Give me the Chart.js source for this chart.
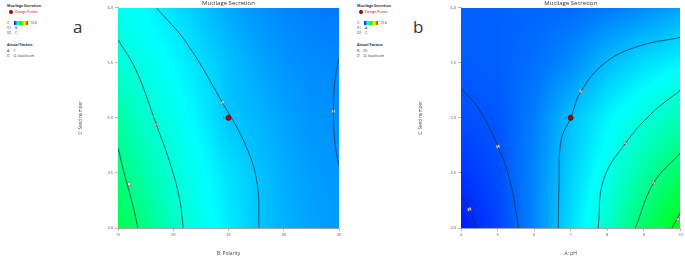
<!DOCTYPE html>
<html>
<head>
<meta charset="utf-8">
<script src="https://cdn.jsdelivr.net/npm/chart.js@4.4.1/dist/chart.umd.min.js"></script>
<style>
  body { margin:0; background:#fff; width:685px; height:257px; overflow:hidden; position:relative; font-family:"Open Sans","Noto Sans",sans-serif; }
  canvas { position:absolute; top:0; }
  .leg { position:absolute; font-size:3.6px; line-height:4px; color:#333; white-space:nowrap; }
  .leg b { font-weight:700; }
  .red { color:#c00000; }
  .dot { display:inline-block; width:4px; height:4px; border-radius:50%; background:#a00000; vertical-align:middle; margin-right:2px; }
  .bar { position:absolute; width:14px; height:4px; background:linear-gradient(to right,#0000ff,#00ffff 25%,#00ff00 50%,#ffff00 75%,#ff0000); }
  .tag { position:absolute; font-size:17px; color:#333; font-family:"Open Sans","Noto Sans",sans-serif; }
</style>
</head>
<body>
<!-- legend a -->
<div class="leg" style="left:7px;top:4px"><b>Mucilage Secretion</b></div>
<div class="leg red" style="left:9px;top:10px"><span class="dot"></span>Design Points</div>
<div class="leg" style="left:7px;top:21px;color:#3050c0">0</div>
<div class="bar" style="left:14px;top:21px"></div>
<div class="leg red" style="left:30px;top:21px">10.6</div>
<div class="leg" style="left:7px;top:26px">X1 = B</div>
<div class="leg" style="left:7px;top:31px">X2 = C</div>
<div class="leg" style="left:7px;top:43px"><b>Actual Factors</b></div>
<div class="leg" style="left:7px;top:49px">A = 7</div>
<div class="leg" style="left:7px;top:54px">D = O. basilicum</div>
<div class="tag" style="left:73px;top:15px">a</div>
<!-- legend b -->
<div class="leg" style="left:357px;top:4px"><b>Mucilage Secretion</b></div>
<div class="leg red" style="left:359px;top:10px"><span class="dot"></span>Design Points</div>
<div class="leg" style="left:357px;top:21px;color:#3050c0">0</div>
<div class="bar" style="left:364px;top:21px"></div>
<div class="leg red" style="left:380px;top:21px">10.6</div>
<div class="leg" style="left:357px;top:26px">X1 = A</div>
<div class="leg" style="left:357px;top:31px">X2 = C</div>
<div class="leg" style="left:357px;top:43px"><b>Actual Factors</b></div>
<div class="leg" style="left:357px;top:49px">B = 25</div>
<div class="leg" style="left:357px;top:54px">D = O. basilicum</div>
<div class="tag" style="left:413px;top:15px">b</div>

<canvas id="chart-a" width="285" height="257" style="left:60px"></canvas>
<canvas id="chart-b" width="285" height="257" style="left:400px"></canvas>

<script>
// ── Data: panel a (B: Polarity vs C: Seed number) ────────────
const aPolarity = [15, 17.5, 20, 22.5, 25, 27.5, 30, 32.5, 35];
const aSeed     = [6, 5.5, 5, 4.5, 4];
const aSurface  = [
  [2.8, 2.6,  2.35, 2.05, 1.75, 1.55, 1.4,  1.3,  1.25],
  [3.05,2.85, 2.6,  2.3,  2.0,  1.75, 1.55, 1.45, 1.4 ],
  [3.6, 3.15, 2.85, 2.5,  2.05, 1.9,  1.7,  1.55, 1.5 ],
  [4.0, 3.5,  3.05, 2.7,  2.35, 2.05, 1.8,  1.65, 1.55],
  [4.5, 3.9,  3.25, 2.85, 2.45, 2.1,  1.85, 1.7,  1.6 ],
];
const aContours = [
  [[15,4.73],[15.6,4.48],[16.1,4.3],[16.5,4.14],[16.8,4.0]],
  [[15,5.71],[16.6,5.44],[18.47,4.94],[19.8,4.56],[20.6,4.25],[20.9,4.0]],
  [[18.47,6],[21.2,5.68],[24.44,5.14],[26.6,4.74],[27.6,4.4],[27.76,4.0]],
  [[35,5.54],[34.64,5.35],[34.5,5.06],[34.64,4.76],[35,4.57]],
];
const aLabels   = [[16.0,4.40],[18.47,4.94],[24.45,5.14],[34.5,5.06]];
const aDesign   = [[25,5]];

// ── Data: panel b (A: pH vs C: Seed number) ──────────────────
const bPH       = [4, 5, 6, 7, 8, 9, 10];
const bSeed     = [6, 5.5, 5, 4.5, 4];
const bSurface  = [
  [1.0,  1.0,  1.05, 1.1,  1.25, 1.45, 1.7 ],
  [0.95, 1.0,  1.15, 1.45, 1.95, 2.3,  2.55],
  [0.8,  0.9,  1.3,  2.0,  2.55, 3.0,  3.45],
  [0.55, 0.8,  1.4,  2.15, 2.85, 3.6,  4.3 ],
  [0.25, 0.7,  1.4,  2.3,  3.2,  4.25, 5.1 ],
];
const bContours = [
  [[4,4.3],[4.23,4.17],[4.44,4.0]],
  [[4,5.27],[4.51,5.07],[5.01,4.74],[5.33,4.44],[5.58,4.0]],
  [[6.66,4.0],[6.68,4.38],[6.74,4.8],[7.0,5.0],[7.28,5.24],[7.94,5.5],[8.85,5.65],[10,5.73]],
  [[7.75,4.0],[7.9,4.44],[8.5,4.77],[9.21,5.04],[10,5.25]],
  [[8.77,4.0],[9.27,4.41],[10,4.68]],
  [[9.77,4.0],[10,4.14]],
];
const bLabels   = [[4.23,4.17],[5.01,4.74],[7.28,5.24],[8.5,4.77],[9.27,4.41],[9.92,4.08]];
const bDesign   = [[7,5]];

// Design-Expert style colour ramp, 0 .. 10.6
const RAMP = [[0,[0,0,255]],[2.65,[0,255,255]],[5.3,[0,255,0]],[7.95,[255,255,0]],[10.6,[255,0,0]]];

function rampColor(v) {
  if (v <= RAMP[0][0]) return RAMP[0][1];
  for (let i=1; i<RAMP.length; i++) {
    if (v <= RAMP[i][0]) {
      const [v0,c0]=RAMP[i-1], [v1,c1]=RAMP[i], t=(v-v0)/(v1-v0);
      return c0.map((c,k)=>c+(c1[k]-c)*t);
    }
  }
  return RAMP[RAMP.length-1][1];
}

// position of v inside sorted/unsorted axis array -> [index, frac]
function locate(arr, v) {
  const asc = arr[1] > arr[0];
  for (let i=0; i<arr.length-1; i++) {
    const a=arr[i], b=arr[i+1];
    if ((asc && v>=a && v<=b) || (!asc && v<=a && v>=b)) return [i, (v-a)/(b-a)];
  }
  return (asc ? v<arr[0] : v>arr[0]) ? [0,0] : [arr.length-2,1];
}

// ── Surface plugin: fills chart area from the grid via the scales ──
const surfacePlugin = {
  id:'surface',
  beforeDatasetsDraw(chart, args, opts) {
    const {ctx, chartArea:ca, scales:{x, y}} = chart;
    const w = Math.round(ca.right-ca.left), h = Math.round(ca.bottom-ca.top);
    const off = document.createElement('canvas');
    off.width = w; off.height = h;
    const octx = off.getContext('2d');
    const img = octx.createImageData(w, h);
    for (let py=0; py<h; py++) {
      const yv = y.getValueForPixel(ca.top+py+0.5);
      const [ri, rf] = locate(opts.rows, yv);
      for (let px=0; px<w; px++) {
        const xv = x.getValueForPixel(ca.left+px+0.5);
        const [ci, cf] = locate(opts.cols, xv);
        const g = opts.grid;
        const v = (g[ri][ci]*(1-cf)+g[ri][ci+1]*cf)*(1-rf) + (g[ri+1][ci]*(1-cf)+g[ri+1][ci+1]*cf)*rf;
        const c = rampColor(v), k=(py*w+px)*4;
        img.data[k]=c[0]; img.data[k+1]=c[1]; img.data[k+2]=c[2]; img.data[k+3]=255;
      }
    }
    octx.putImageData(img, 0, 0);
    ctx.drawImage(off, ca.left, ca.top);
  },
  afterDatasetsDraw(chart, args, opts) {
    // replicate count next to the design point
    const {ctx, scales:{x, y}} = chart;
    ctx.save();
    ctx.fillStyle = '#222';
    ctx.font = '3px "Open Sans"';
    ctx.textAlign = 'right'; ctx.textBaseline = 'middle';
    opts.design.forEach(([dx,dy]) => ctx.fillText('6', x.getPixelForValue(dx)-4, y.getPixelForValue(dy)));
    ctx.restore();
  }
};

function makePanel(id, p) {
  const pts = arr => arr.map(([x,y]) => ({x, y}));
  const datasets = p.contours.map(c => ({
    type:'line', data:pts(c), borderColor:'rgba(25,45,50,0.9)', borderWidth:0.8,
    pointRadius:0, tension:0.4, fill:false,
  }));
  datasets.push({ type:'scatter', data:pts(p.labels), pointStyle:'rect', pointRadius:2.2,
    backgroundColor:'#f4f4f4', borderColor:'#777', borderWidth:0.6 });
  datasets.push({ type:'scatter', data:pts(p.design), pointStyle:'circle', pointRadius:2.6,
    backgroundColor:'#b00000', borderColor:'#600000', borderWidth:0.6 });

  const tickFont = {size:4, family:'"Open Sans"'};
  return new Chart(document.getElementById(id), {
    type:'scatter',
    data:{ datasets },
    plugins:[surfacePlugin],
    options:{
      responsive:false, animation:false,
      layout:{ padding:{ left:18, right:p.padRight, top:0, bottom:0 } },
      plugins:{
        legend:{display:false}, tooltip:{enabled:false},
        title:{ display:true, text:'Mucilage Secretion', fullSize:false, color:'#333',
          font:{size:6, family:'"Open Sans"', weight:'normal'}, padding:{top:0,bottom:0.5} },
        surface:{ grid:p.grid, cols:p.cols, rows:p.rows, design:p.design },
      },
      scales:{
        x:{ type:'linear', min:p.xMin, max:p.xMax,
            ticks:{ stepSize:p.xStep, font:tickFont, color:'#555', padding:1, maxRotation:0 },
            grid:{ drawOnChartArea:false, tickLength:3, color:'#888', lineWidth:0.6 },
            border:{ color:'#888', width:0.8 },
            title:{ display:true, text:p.xTitle, color:'#444', font:{size:5, family:'"Open Sans"'}, padding:0 },
            afterFit(s){ s.height = 29; } },
        y:{ type:'linear', min:4, max:6,
            ticks:{ stepSize:0.5, font:tickFont, color:'#555', padding:2 },
            grid:{ drawOnChartArea:false, tickLength:3, color:'#888', lineWidth:0.6 },
            border:{ color:'#888', width:0.8 },
            title:{ display:true, text:'C: Seed number', color:'#444', font:{size:4.5, family:'"Open Sans"'}, padding:0 },
            afterFit(s){ s.width = p.yWidth; } },
      },
    },
  });
}

makePanel('chart-a', { grid:aSurface, cols:aPolarity, rows:aSeed, contours:aContours, labels:aLabels,
  design:aDesign, xMin:15, xMax:35, xStep:5, xTitle:'B: Polarity', yWidth:40, padRight:6 });
makePanel('chart-b', { grid:bSurface, cols:bPH, rows:bSeed, contours:bContours, labels:bLabels,
  design:bDesign, xMin:4, xMax:10, xStep:1, xTitle:'A: pH', yWidth:43, padRight:2 });
</script>
</body>
</html>
